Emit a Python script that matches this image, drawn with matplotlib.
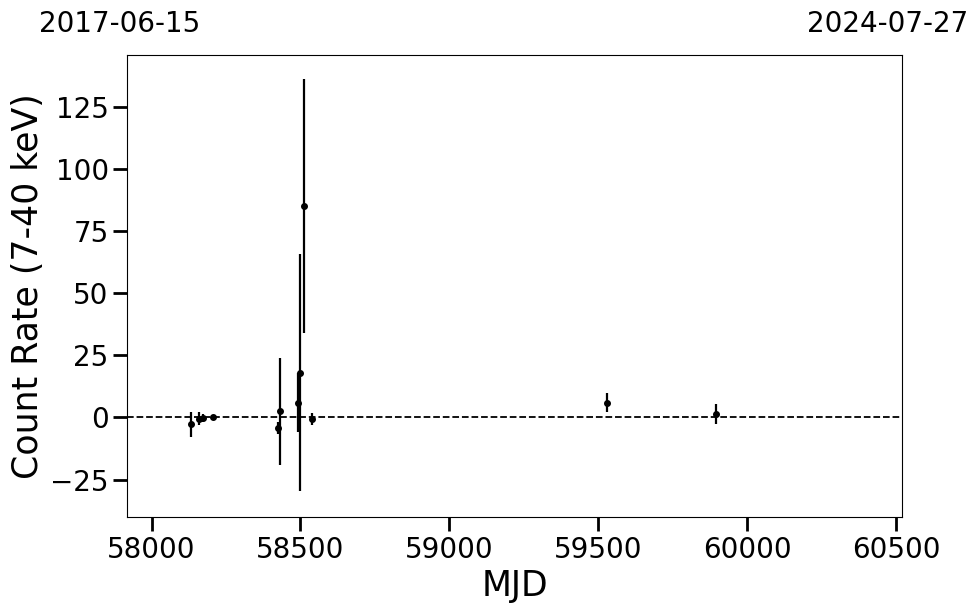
import matplotlib
matplotlib.use("Agg")
import matplotlib.pyplot as plt

# light curve points (MJD, count rate 7-40 keV, 1-sigma error)
mjd = [58134, 58161, 58173, 58205, 58426, 58432, 58493, 58500, 58512, 58537, 59530, 59894]
rate = [-2.8, -0.5, -0.3, 0.0, -4.2, 2.4, 6.0, 18.0, 85.2, -0.8, 6.0, 1.5]
rate_err = [5.0, 2.5, 1.5, 0.8, 2.4, 21.5, 12.0, 47.8, 51.0, 2.4, 3.7, 4.1]

start_date, end_date = "2017-06-15", "2024-07-27"
mjd_lim = (57919, 60519)

fig = plt.figure(figsize=(9.8, 6.13), dpi=100)
ax = fig.add_axes([0.13, 0.157, 0.7904, 0.7533])

ax.errorbar(mjd, rate, yerr=rate_err, fmt="o", color="black",
            ms=4, elinewidth=1.6, capsize=0)
ax.axhline(0, color="black", ls="--", lw=1.3)

ax.set_xlim(*mjd_lim)
ax.set_ylim(-40, 146)
ax.set_xticks([58000, 58500, 59000, 59500, 60000, 60500])
ax.set_yticks([-25, 0, 25, 50, 75, 100, 125])
ax.tick_params(labelsize=20, length=10, width=2)
ax.set_xlabel("MJD", fontsize=25)
ax.set_ylabel("Count Rate (7-40 keV)", fontsize=25)

fig.text(39 / 980, 1 - 32 / 613, start_date, fontsize=20, ha="left", va="baseline")
fig.text(968 / 980, 1 - 32 / 613, end_date, fontsize=20, ha="right", va="baseline")

fig.savefig("out.png", dpi=100)
